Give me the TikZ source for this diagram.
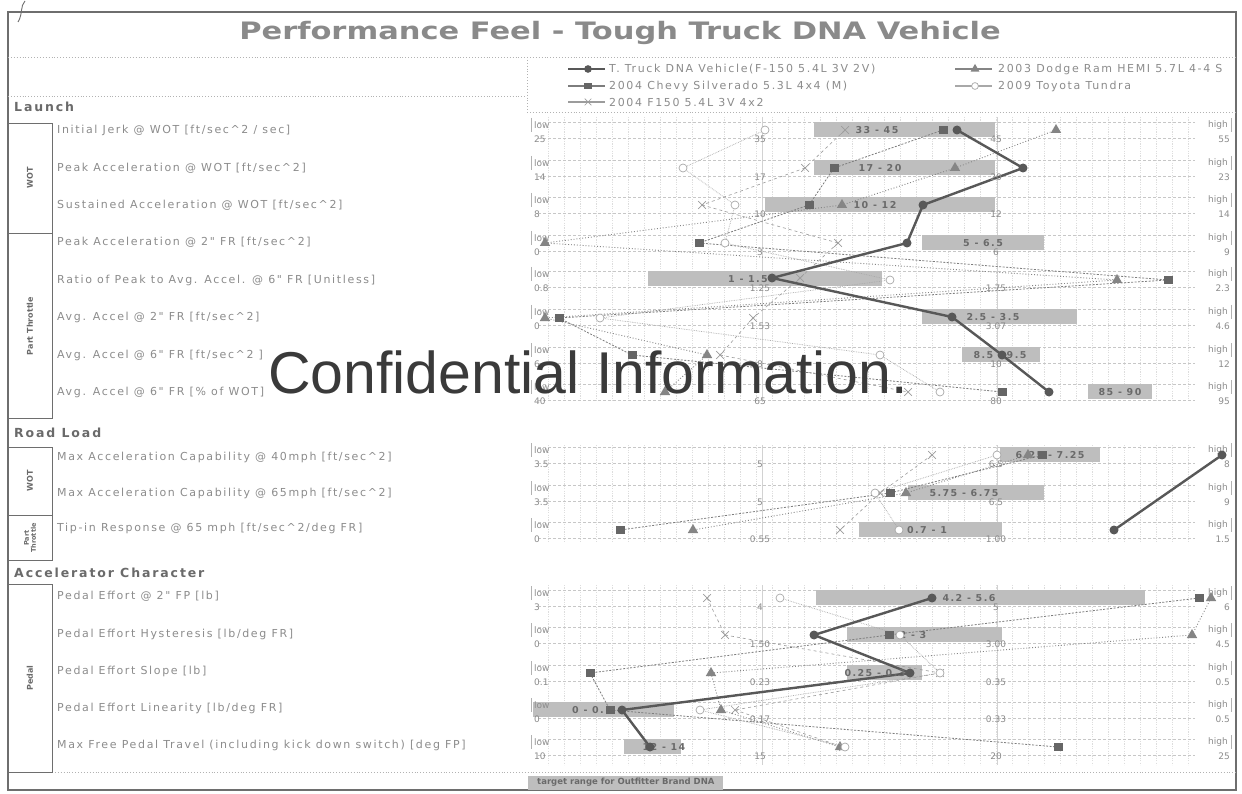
\documentclass[tikz,border=0pt]{standalone}
\usepackage{fontspec}
\setmainfont{DejaVu Sans}
\newfontfamily\widefont[LetterSpace=15]{DejaVu Sans}
\newfontfamily\wmfont{Liberation Sans}
\usetikzlibrary{shapes.geometric,shapes.misc}
\pgfdeclarelayer{back}
\pgfdeclarelayer{lines}
\pgfsetlayers{back,lines,main}

\definecolor{framegray}{HTML}{6E6E6E}
\definecolor{txtgray}{HTML}{8C8C8C}
\definecolor{hdrgray}{HTML}{6A6A6A}
\definecolor{titlegray}{HTML}{8A8A8A}
\definecolor{bargray}{HTML}{BEBEBE}
\definecolor{ttcol}{HTML}{585858}
\definecolor{chcol}{HTML}{666666}
\definecolor{dgcol}{HTML}{858585}
\definecolor{fxcol}{HTML}{9C9C9C}
\definecolor{tucol}{HTML}{A8A8A8}
\definecolor{gridcol}{HTML}{DDDDDD}
\definecolor{wmcol}{HTML}{3A3A3A}

\tikzset{
  rowlab/.style={anchor=west, inner sep=0, font=\widefont\fontsize{11}{12}\selectfont, text=txtgray},
  secthdr/.style={anchor=west, inner sep=0, font=\widefont\bfseries\fontsize{12.5}{13}\selectfont, text=hdrgray},
  sidelab/.style={rotate=90, inner sep=0, font=\bfseries\fontsize{8}{9}\selectfont, text=hdrgray, align=center},
  sidebox/.style={draw=framegray, line width=0.9pt},
  endlab/.style={inner sep=0, font=\fontsize{9}{10}\selectfont, text=txtgray},
  barlab/.style={inner sep=0, font=\widefont\bfseries\fontsize{9.5}{10}\selectfont, text=hdrgray},
  rangebar/.style={fill=bargray, draw=none},
  ttmark/.style={circle, fill=ttcol, inner sep=0, minimum size=9pt},
  chmark/.style={rectangle, fill=chcol, inner sep=0, minimum width=9pt, minimum height=8pt},
  dgmark/.style={regular polygon, regular polygon sides=3, fill=dgcol, inner sep=0, minimum size=12pt},
  fxmark/.style={cross out, draw=fxcol, line width=0.7pt, inner sep=0, minimum size=7pt},
  tumark/.style={circle, draw=tucol, fill=white, line width=0.7pt, inner sep=0, minimum size=8pt},
  ttline/.style={draw=ttcol, line width=2.4pt},
  chline/.style={draw=chcol!85, line width=0.8pt, dash pattern=on 2pt off 1.5pt},
  dgline/.style={draw=dgcol, line width=0.9pt, dotted},
  fxline/.style={draw=fxcol, line width=0.6pt, dashed},
  tuline/.style={draw=tucol, line width=0.7pt, densely dotted},
  legtxt/.style={anchor=west, inner sep=0, font=\widefont\fontsize{11}{12}\selectfont, text=txtgray},
  gridv/.style={draw=gridcol, line width=0.4pt, dash pattern=on 1.2pt off 1.2pt},
  gridh/.style={draw=gridcol!90!black, line width=0.5pt, dash pattern=on 3pt off 2pt},
}

\begin{document}
\begin{tikzpicture}[x=1pt,y=-1pt]
\useasboundingbox (0,0) rectangle (1242,794);
\begin{pgfonlayer}{back}
  \fill[white] (0,0) rectangle (1242,794);
\end{pgfonlayer}

% ---------- frame, title and dividers ----------
\draw[framegray, line width=1.1pt] (8,12) rectangle (1236,790);
\draw[framegray, line width=0.9pt] (25,1) .. controls (20,6) and (23,14) .. (18,22);
\node[inner sep=0, font=\bfseries\fontsize{24}{26}\selectfont, text=titlegray] (title) at (620,33)
  {\scalebox{1.27}[1]{Performance Feel - Tough Truck DNA Vehicle}};
\draw[gray!60, dotted, line width=0.9pt] (8,57) -- (1236,57);
\draw[gray!60, dotted, line width=0.9pt] (8,96) -- (527,96);
\draw[gray!60, dotted, line width=0.9pt] (527,57) -- (527,112) -- (1236,112);
\draw[gray!60, dotted, line width=0.9pt] (52,772) -- (1236,772);

% ---------- legend ----------
\foreach \lx/\ly/\st/\mk/\nm in {588/69/ttline/ttmark/a, 588/86/chline/chmark/b, 588/102/fxline/fxmark/c, 975/69/dgline/dgmark/d, 975/86/tuline/tumark/e}{
  \node[\mk, scale=0.85] (leg\nm) at (\lx,\ly) {};
  \coordinate (legl\nm) at ({\lx-20},\ly);
  \coordinate (legr\nm) at ({\lx+17},\ly);
  \begin{pgfonlayer}{lines}
    \draw[\st, solid, line width=1.2pt] (legl\nm) -- (legr\nm);
  \end{pgfonlayer}
}
\node[legtxt] (legta) at (609,69) {T. Truck DNA Vehicle(F-150 5.4L 3V 2V)};
\node[legtxt] (legtb) at (609,86) {2004 Chevy Silverado 5.3L 4x4 (M)};
\node[legtxt] (legtc) at (609,102) {2004 F150 5.4L 3V 4x2};
\node[legtxt] (legtd) at (998,69) {2003 Dodge Ram HEMI 5.7L 4-4 S};
\node[legtxt] (legte) at (998,86) {2009 Toyota Tundra};

% ---------- left panel: sections, groups and measures ----------
\node[secthdr] (hLaunch) at (14,107) {Launch};
\node[secthdr] (hRoad) at (14,433) {Road Load};
\node[secthdr] (hAccel) at (14,573) {Accelerator Character};

\draw[sidebox] (8,123) rectangle (52,233);
\draw[sidebox] (8,233) rectangle (52,418);
\draw[sidebox] (8,447) rectangle (52,515);
\draw[sidebox] (8,515) rectangle (52,560);
\draw[sidebox] (8,584) rectangle (52,772);
\node[sidelab] (gWOT1) at (30,178) {WOT};
\node[sidelab] (gPT1) at (30,326) {Part Throttle};
\node[sidelab] (gWOT2) at (30,481) {WOT};
\node[sidelab, font=\bfseries\fontsize{6.5}{7}\selectfont] (gPT2) at (30,538) {Part\\Throttle};
\node[sidelab] (gPed) at (30,678) {Pedal};

\node[rowlab] (m1) at (57,130) {Initial Jerk @ WOT [ft/sec\textasciicircum 2 / sec]};
\node[rowlab] (m2) at (57,168) {Peak Acceleration @ WOT [ft/sec\textasciicircum 2]};
\node[rowlab] (m3) at (57,205) {Sustained Acceleration @ WOT [ft/sec\textasciicircum 2]};
\node[rowlab] (m4) at (57,242) {Peak Acceleration @ 2" FR [ft/sec\textasciicircum 2]};
\node[rowlab] (m5) at (57,280) {Ratio of Peak to Avg. Accel. @ 6" FR [Unitless]};
\node[rowlab] (m6) at (57,317) {Avg. Accel @ 2" FR [ft/sec\textasciicircum 2]};
\node[rowlab] (m7) at (57,355) {Avg. Accel @ 6" FR [ft/sec\textasciicircum 2 ]};
\node[rowlab] (m8) at (57,392) {Avg. Accel @ 6" FR [\% of WOT]};
\node[rowlab] (m9) at (57,457) {Max Acceleration Capability @ 40mph [ft/sec\textasciicircum 2]};
\node[rowlab] (m10) at (57,493) {Max Acceleration Capability @ 65mph [ft/sec\textasciicircum 2]};
\node[rowlab] (m11) at (57,528) {Tip-in Response @ 65 mph [ft/sec\textasciicircum 2/deg FR]};
\node[rowlab] (m12) at (57,596) {Pedal Effort @ 2" FP [lb]};
\node[rowlab] (m13) at (57,634) {Pedal Effort Hysteresis [lb/deg FR]};
\node[rowlab] (m14) at (57,671) {Pedal Effort Slope [lb]};
\node[rowlab] (m15) at (57,708) {Pedal Effort Linearity [lb/deg FR]};
\node[rowlab] (m16) at (57,745) {Max Free Pedal Travel (including kick down switch) [deg FP]};

% ---------- chart grid ----------
\begin{pgfonlayer}{back}
  \foreach \ya/\yb in {117/402,445/542,585/765}{
    \foreach \gx in {548,564,...,1196}{
      \draw[gridv] (\gx,\ya) -- (\gx,\yb);
    }
    \draw[gray!35, line width=0.6pt] (762,\ya) -- (762,\yb);
    \draw[gray!35, line width=0.6pt] (997,\ya) -- (997,\yb);
  }
\end{pgfonlayer}

% ---------- rows: scale ends, ticks and target ranges ----------
\foreach \i/\y/\lo/\hi/\ta/\tb/\ba/\bb/\bx/\bl in {
  1/130/25/55/35/45/814/995/877/33 - 45,
  2/168/14/23/17/20/814/995/880/17 - 20,
  3/205/8/14/10/12/765/995/875/10 - 12,
  4/243/0/9/3/6/922/1044/983/5 - 6.5,
  5/279/0.8/2.3/1.25/1.75/648/882/748/1 - 1.5,
  6/317/0/4.6/1.53/3.07/922/1077/993/2.5 - 3.5,
  7/355/6/12/8/10/962/1040/1000/8.5 - 9.5,
  8/392/40/95/65/80/1088/1152/1120/85 - 90,
  9/455/3.5/8/5/6.5/1000/1100/1050/6.25 - 7.25,
  10/493/3.5/9/5/6.5/908/1044/964/5.75 - 6.75,
  11/530/0/1.5/0.55/1.00/859/1002/927/0.7 - 1,
  12/598/3/6/4/5/816/1145/969/4.2 - 5.6,
  13/635/0/4.5/1.50/3.00/847/1002/913/2 - 3,
  14/673/0.1/0.5/0.23/0.35/847/922/875/0.25 - 0.3,
  15/710/0/0.5/0.17/0.33/533/674/592/0 - 0.1,
  16/747/10/25/15/20/624/681/664/12 - 14}{
  \begin{pgfonlayer}{back}
    \draw[gridh] (538,{\y-8}) -- (1195,{\y-8});
    \draw[gridh] (538,{\y+8}) -- (1195,{\y+8});
    \fill[rangebar] (\ba,{\y-8}) rectangle (\bb,{\y+7});
  \end{pgfonlayer}
  \draw[gray!60, line width=0.6pt] (531,{\y-12}) -- (531,{\y+2});
  \draw[gray!60, line width=0.6pt] (1231,{\y-12}) -- (1231,{\y+2});
  \node[endlab, anchor=west] (lo\i) at (534,{\y-5}) {low};
  \node[endlab, anchor=west] (lov\i) at (534,{\y+9}) {\lo};
  \node[endlab, anchor=east] (hi\i) at (1228,{\y-5}) {high};
  \node[endlab, anchor=east] (hiv\i) at (1230,{\y+9}) {\hi};
  \node[endlab] (ta\i) at (760,{\y+9}) {\ta};
  \node[endlab] (tb\i) at (996,{\y+9}) {\tb};
  \node[barlab] (bl\i) at (\bx,\y) {\bl};
}

% ---------- vehicle series: markers ----------
\foreach \i/\x/\y in {1/957/130,2/1023/168,3/923/205,4/907/243,5/772/278,6/952/317,7/1002/355,8/1049/392,
  9/1222/455,11/1114/530,12/932/598,13/814/635,14/910/673,15/622/710,16/650/747}
  \node[ttmark] (tt\i) at (\x,\y) {};
\foreach \i/\x/\y in {1/943/130,2/834/168,3/809/205,4/699/243,5/1168/280,6/559/318,7/632/355,8/1002/392,
  9/1042/455,10/890/493,11/620/530,12/1199/598,13/889/635,14/590/673,15/610/710,16/1058/747}
  \node[chmark] (ch\i) at (\x,\y) {};
\foreach \i/\x/\y in {1/1056/130,2/955/168,3/842/205,4/545/243,5/1117/280,6/545/318,7/707/355,8/665/392,
  9/1028/455,10/906/493,11/693/530,12/1211/598,13/1192/635,14/711/673,15/721/710,16/840/747}
  \node[dgmark] (dg\i) at (\x,\y) {};
\foreach \i/\x/\y in {1/845/130,2/805/168,3/702/205,4/838/243,5/800/278,6/753/318,7/720/355,8/908/392,
  9/932/455,10/880/493,11/840/530,12/707/598,13/725/635,14/940/673,15/735/710,16/843/747}
  \node[fxmark] (fx\i) at (\x,\y) {};
\foreach \i/\x/\y in {1/765/130,2/683/168,3/735/205,4/725/243,5/890/280,6/600/318,7/880/355,8/940/392,
  9/997/455,10/875/493,11/899/530,12/780/598,13/900/635,14/940/673,15/700/710,16/845/747}
  \node[tumark] (tu\i) at (\x,\y) {};

% ---------- vehicle series: connecting lines ----------
\begin{pgfonlayer}{lines}
  \foreach \s/\st in {ch/chline, dg/dgline, fx/fxline, tu/tuline}{
    \foreach \a/\b in {1/2,2/3,3/4,4/5,5/6,6/7,7/8,9/10,10/11,12/13,13/14,14/15,15/16}
      \draw[\st] (\s\a.center) -- (\s\b.center);
  }
  \foreach \a/\b in {1/2,2/3,3/4,4/5,5/6,6/7,7/8,9/11,12/13,13/14,14/15,15/16}
    \draw[ttline, line cap=round] (tt\a.center) -- (tt\b.center);
\end{pgfonlayer}

% ---------- stamp and footer ----------
\node[anchor=west, inner sep=0, font=\wmfont\fontsize{59}{60}\selectfont, text=wmcol] (stamp) at (268,372) {Confidential Information.};
\node[anchor=south west, fill=bargray, inner xsep=9pt, inner ysep=3pt, font=\bfseries\fontsize{8.5}{9}\selectfont, text=hdrgray] (target) at (528,790) {target range for Outfitter Brand DNA};
\end{tikzpicture}
\end{document}
